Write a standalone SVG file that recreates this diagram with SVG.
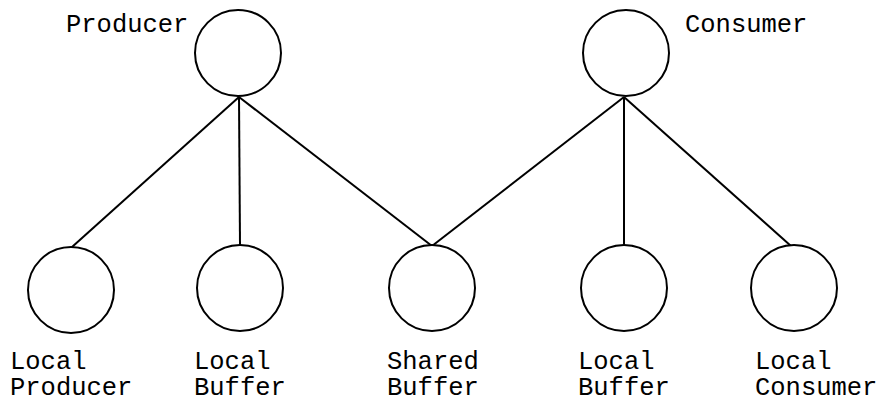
<svg xmlns="http://www.w3.org/2000/svg" width="878" height="401" viewBox="0 0 878 401">
  <style>
    .node { fill: #ffffff; stroke: #000000; stroke-width: 2; }
    .edge { stroke: #000000; stroke-width: 2; fill: none; }
    .label { font-family: "Liberation Mono", "Courier New", monospace; font-size: 25.5px; fill: #000000; }
  </style>
  <rect width="878" height="401" fill="#ffffff"/>
  <g id="connectors">
    <line class="edge" x1="239" y1="97" x2="72" y2="247"/>
    <line class="edge" x1="239" y1="97" x2="240" y2="245"/>
    <line class="edge" x1="239" y1="97" x2="432" y2="246"/>
    <line class="edge" x1="624" y1="97" x2="432" y2="246"/>
    <line class="edge" x1="624" y1="97" x2="624" y2="245"/>
    <line class="edge" x1="624" y1="97" x2="791" y2="246"/>
  </g>
  <g id="producer">
    <circle class="node" cx="238" cy="53" r="43"/>
    <text class="label" x="66" y="32">Producer</text>
  </g>
  <g id="consumer">
    <circle class="node" cx="626" cy="53" r="43"/>
    <text class="label" x="685" y="32">Consumer</text>
  </g>
  <g id="local-producer">
    <circle class="node" cx="71" cy="290" r="43"/>
    <text class="label" x="10" y="369">Local</text>
    <text class="label" x="10" y="395">Producer</text>
  </g>
  <g id="producer-local-buffer">
    <circle class="node" cx="240" cy="288" r="43"/>
    <text class="label" x="194" y="369">Local</text>
    <text class="label" x="194" y="395">Buffer</text>
  </g>
  <g id="shared-buffer">
    <circle class="node" cx="432" cy="288" r="43"/>
    <text class="label" x="387" y="369">Shared</text>
    <text class="label" x="387" y="395">Buffer</text>
  </g>
  <g id="consumer-local-buffer">
    <circle class="node" cx="624" cy="288" r="43"/>
    <text class="label" x="578" y="369">Local</text>
    <text class="label" x="578" y="395">Buffer</text>
  </g>
  <g id="local-consumer">
    <circle class="node" cx="794" cy="288" r="43"/>
    <text class="label" x="755" y="369">Local</text>
    <text class="label" x="755" y="395">Consumer</text>
  </g>
</svg>
